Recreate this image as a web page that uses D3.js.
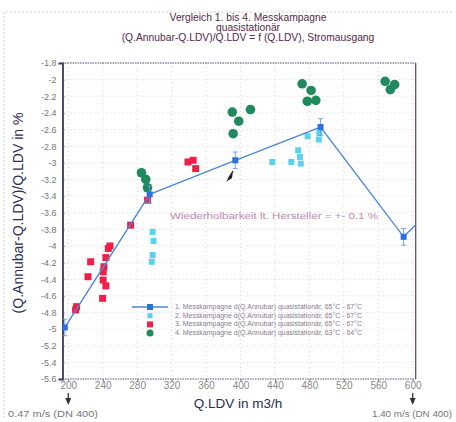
<!DOCTYPE html>
<html><head><meta charset="utf-8">
<script src="https://cdn.jsdelivr.net/npm/d3@7"></script>
<style>body{margin:0;background:#fff;}svg{display:block;font-family:"Liberation Sans",Arial,sans-serif;}</style>
</head><body>
<svg id="c" width="456" height="422"></svg>
<script>
// ---- data ----
const titleLines = ["Vergleich 1. bis 4. Messkampagne", "quasistationär", "(Q.Annubar-Q.LDV)/Q.LDV = f (Q.LDV), Stromausgang"];
const xTicks = [200, 240, 280, 320, 360, 400, 440, 480, 520, 560, 600];
const yTicks = [-1.8,-2,-2.2,-2.4,-2.6,-2.8,-3,-3.2,-3.4,-3.6,-3.8,-4,-4.2,-4.4,-4.6,-4.8,-5,-5.2,-5.4,-5.6];
const s1x = [196, 294.5, 394, 493, 589.5, 640];
const s1y = [-4.98, -3.38, -2.97, -2.57, -3.89, -3.37];
const s1err = 0.1;
const s2x = [298, 299, 298, 297, 437, 459, 467, 469, 470, 478, 491.5, 491];
const s2y = [-3.83, -3.94, -4.11, -4.19, -2.99, -2.99, -2.85, -2.93, -3.01, -2.68, -2.64, -2.72];
const s3x = [292, 272.4, 248.4, 246.5, 226, 222.9, 243.7, 241.4, 240.6, 240.5, 243.7, 239.9, 209.7, 208.5, 339, 345, 348];
const s3y = [-3.45, -3.75, -4.0, -4.03, -4.19, -4.37, -4.14, -4.25, -4.31, -4.41, -4.48, -4.63, -4.73, -4.77, -2.99, -2.97, -3.07];
const s4x = [285, 290, 292, 390.5, 411.6, 398, 391.5, 471.6, 482, 477.6, 487.5, 568, 579, 574];
const s4y = [-3.12, -3.2, -3.3, -2.39, -2.36, -2.5, -2.65, -2.05, -2.13, -2.26, -2.25, -2.02, -2.06, -2.12];
const legendLabels = [
  "1. Messkampagne d(Q.Annubar) quasistationär, 65°C - 67°C",
  "2. Messkampagne d(Q.Annubar) quasistationär, 65°C - 67°C",
  "3. Messkampagne d(Q.Annubar) quasistationär, 65°C - 67°C",
  "4. Messkampagne d(Q.Annubar) quasistationär, 63°C - 64°C"
];
const noteText = "Wiederholbarkeit lt. Hersteller = +- 0.1 %";
const xLabel = "Q.LDV in m3/h";
const yLabel = "(Q.Annubar-Q.LDV)/Q.LDV in %";
const lowNote = "0.47 m/s (DN 400)", highNote = "1.40 m/s (DN 400)";
const lowX = 200, highX = 600;

// ---- colours ----
const cBlue = "#2f6fdc", cLine = "#4a8ad8", cCyan = "#5ad2ee", cRed = "#ee1f48", cGreen = "#1f8a5e";

const svg = d3.select("#c");
const L = 62.5, R = 415.7, T = 63, B = 379;
const x = d3.scaleLinear().domain([193.3, 603.5]).range([L, R]);
const y = d3.scaleLinear().domain([-5.6, -1.8]).range([B, T]);

// outer faint frame
svg.append("path").attr("d", `M4,418 V12 H452`).attr("fill","none")
  .attr("stroke","#cfcfcf").attr("stroke-dasharray","2,2");

// title
svg.append("g").selectAll("text").data(titleLines).join("text")
  .attr("x", 248).attr("y", (d,i) => 21 + i*9.8).attr("text-anchor","middle")
  .attr("font-size", 10.3).attr("fill", "#55284a").text(d => d);

// grid
const grid = svg.append("g").attr("stroke","#c9c9d2").attr("stroke-dasharray","1,3").attr("stroke-width",0.8);
grid.selectAll(".gx").data(xTicks).join("line").attr("x1",d=>x(d)).attr("x2",d=>x(d)).attr("y1",T).attr("y2",B);
grid.selectAll(".gy").data(yTicks).join("line").attr("x1",L).attr("x2",R).attr("y1",d=>y(d)).attr("y2",d=>y(d));

// borders
svg.append("line").attr("x1",L).attr("x2",R).attr("y1",T).attr("y2",T).attr("stroke","#6a4a70").attr("stroke-dasharray","1.5,1").attr("stroke-width",1.2);
svg.append("line").attr("x1",L).attr("x2",R).attr("y1",B).attr("y2",B).attr("stroke","#6a5a78").attr("stroke-dasharray","1.5,1").attr("stroke-width",1.2);
svg.append("line").attr("x1",R).attr("x2",R).attr("y1",T).attr("y2",B).attr("stroke","#6a4a78").attr("stroke-width",1.3);

// axes
const yAxis = svg.append("g").attr("transform",`translate(${L},0)`)
  .call(d3.axisLeft(y).tickValues(yTicks).tickSize(4).tickFormat(d => String(+d.toFixed(1))));
yAxis.select(".domain").attr("stroke","#3a3a5a").attr("stroke-width",1.8);
yAxis.selectAll(".tick line").attr("stroke","#555").attr("x2",2);
yAxis.selectAll("text").attr("font-size",9).attr("fill","#777").attr("font-family","Liberation Sans, Arial").attr("dx",1);

const xAxis = svg.append("g").attr("transform",`translate(0,${B})`)
  .call(d3.axisBottom(x).tickValues(xTicks).tickSize(3).tickFormat(d3.format("d")));
xAxis.select(".domain").remove();
xAxis.selectAll(".tick line").attr("stroke","#777");
xAxis.selectAll("text").attr("font-size",10).attr("fill","#888").attr("font-family","Liberation Sans, Arial").attr("dy","0.35em");

// axis labels
svg.append("text").attr("x", 238).attr("y", 408).attr("text-anchor","middle")
  .attr("font-size",13.5).attr("fill","#2c2c55").text(xLabel);
svg.append("text").attr("transform",`translate(23,${(T+B)/2 - 8}) rotate(-90)`).attr("text-anchor","middle")
  .attr("font-size",14).attr("fill","#2c2c55").text(yLabel);

// velocity markers
[[lowX, lowNote, 8, "start", 90], [highX, highNote, 452, "end", 80]].forEach(([v, t, tx, anc, w]) => {
  const px = x(v);
  svg.append("path").attr("d", `M${px},393 V399`).attr("stroke","#333").attr("stroke-width",1.3);
  svg.append("path").attr("d", `M${px-3},398 L${px+3},398 L${px},405 Z`).attr("fill","#333");
  svg.append("text").attr("x", tx).attr("y", 417).attr("text-anchor", anc)
    .attr("font-size",8.5).attr("fill","#777").attr("textLength", w).attr("lengthAdjust","spacingAndGlyphs").text(t);
});

// clip
svg.append("clipPath").attr("id","clip").append("rect").attr("x",L).attr("y",T-8).attr("width",R-L).attr("height",B-T+16);
const plot = svg.append("g").attr("clip-path","url(#clip)");

// note text
svg.append("text").attr("x", 170).attr("y", 219).attr("font-size",8.5).attr("fill","#c08aa8")
  .attr("textLength", 208).attr("lengthAdjust","spacingAndGlyphs").text(noteText);

// series 3 red
plot.append("g").selectAll("rect").data(s3x).join("rect")
  .attr("x",(d,i)=>x(d)-3.5).attr("y",(d,i)=>y(s3y[i])-3.5).attr("width",7).attr("height",7).attr("fill",cRed);
// series 2 cyan
plot.append("g").selectAll("rect").data(s2x).join("rect")
  .attr("x",(d,i)=>x(d)-3).attr("y",(d,i)=>y(s2y[i])-3).attr("width",6).attr("height",6).attr("fill",cCyan);
// series 4 green
plot.append("g").selectAll("circle").data(s4x).join("circle")
  .attr("cx",d=>x(d)).attr("cy",(d,i)=>y(s4y[i])).attr("r",4.8).attr("fill",cGreen);

// series 1 line
const s1 = s1x.map((v,i)=>[v, s1y[i]]);
plot.append("path").datum(s1).attr("fill","none").attr("stroke",cLine).attr("stroke-width",1.4)
  .attr("d", d3.line().x(d=>x(d[0])).y(d=>y(d[1])));
const eb = plot.append("g").attr("stroke","#6a9be0").attr("stroke-width",0.9);
s1.forEach(d => {
  const px = x(d[0]);
  eb.append("line").attr("x1",px).attr("x2",px).attr("y1",y(d[1]+s1err)).attr("y2",y(d[1]-s1err));
  eb.append("line").attr("x1",px-2.5).attr("x2",px+2.5).attr("y1",y(d[1]+s1err)).attr("y2",y(d[1]+s1err));
  eb.append("line").attr("x1",px-2.5).attr("x2",px+2.5).attr("y1",y(d[1]-s1err)).attr("y2",y(d[1]-s1err));
});
plot.append("g").selectAll("rect").data(s1).join("rect")
  .attr("x",d=>x(d[0])-3).attr("y",d=>y(d[1])-3).attr("width",6).attr("height",6).attr("fill",cBlue);

// small black arrow annotation
svg.append("path").attr("d","M233,171 L228,179 L226,182 L232,178 Z").attr("fill","#222");
svg.append("line").attr("x1",233).attr("y1",171).attr("x2",228).attr("y2",179).attr("stroke","#222").attr("stroke-width",1.3);

// legend
const lg = svg.append("g");
const ly0 = 307, ldy = 8.7, lmx = 150;
lg.append("line").attr("x1",132).attr("x2",168).attr("y1",ly0).attr("y2",ly0).attr("stroke",cLine).attr("stroke-width",1.4);
lg.append("rect").attr("x",lmx-3).attr("y",ly0-3).attr("width",6).attr("height",6).attr("fill",cBlue);
lg.append("rect").attr("x",lmx-2.5).attr("y",ly0+ldy-2.5).attr("width",5).attr("height",5).attr("fill",cCyan);
lg.append("rect").attr("x",lmx-3).attr("y",ly0+2*ldy-3).attr("width",6).attr("height",6).attr("fill",cRed);
lg.append("circle").attr("cx",lmx).attr("cy",ly0+3*ldy).attr("r",3.5).attr("fill",cGreen);
lg.selectAll("text").data(legendLabels).join("text")
  .attr("x",175).attr("y",(d,i)=>ly0+i*ldy+2).attr("font-size",6.3).attr("fill","#8a7a90")
  .attr("textLength",187).attr("lengthAdjust","spacingAndGlyphs").text(d=>d);
</script>
</body></html>
